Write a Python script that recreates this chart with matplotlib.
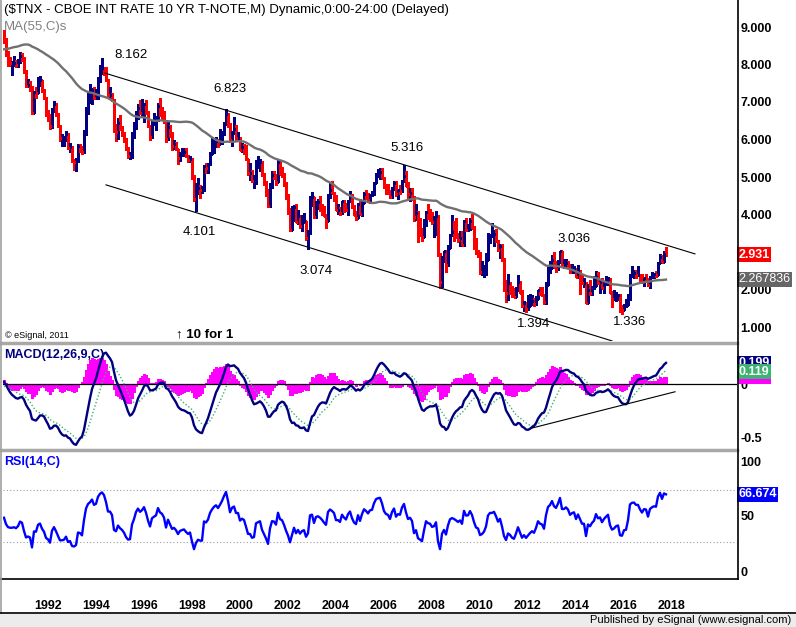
import numpy as np
import pandas as pd
import matplotlib
matplotlib.use('Agg')
import matplotlib.pyplot as plt
import matplotlib.transforms as mtransforms
from matplotlib.lines import Line2D
from matplotlib.patches import Rectangle

plt.rcParams['font.family'] = ['Liberation Sans', 'DejaVu Sans']

# monthly closes Jan 1986 - Sep 1990, only used to warm up the indicators
warmup_closes = [
    9.01, 8.22, 7.31, 7.56, 8.09, 7.27, 7.32, 7.08, 7.61, 7.45, 7.21, 7.23,
    7.09, 7.24, 7.56, 8.36, 8.72, 8.39, 8.73, 8.97, 9.59, 8.90, 8.93, 8.83,
    8.36, 8.39, 8.74, 8.97, 9.16, 8.83, 9.30, 9.19, 8.87, 8.70, 9.07, 9.14,
    8.91, 9.27, 9.29, 9.06, 8.58, 8.04, 7.80, 8.28, 8.24, 7.89, 7.84, 7.93,
    8.42, 8.51, 8.65, 9.04, 8.60, 8.44, 8.41, 8.86, 8.83,
]

# monthly bars Oct 1990 - May 2018 (open = previous close)
closes = [
    8.63, 8.26, 8.07,
    8.03, 8.03, 8.05, 8.00, 8.07, 8.23, 8.18, 7.80, 7.43, 7.46, 7.40, 6.70,
    7.27, 7.25, 7.53, 7.58, 7.30, 7.12, 6.71, 6.60, 6.35, 6.79, 6.94, 6.69,
    6.37, 6.03, 6.03, 6.05, 6.15, 5.78, 5.81, 5.44, 5.39, 5.43, 5.82, 5.79,
    5.66, 6.21, 6.77, 7.04, 7.15, 7.32, 7.11, 7.17, 7.60, 7.81, 7.91, 7.82,
    7.58, 7.20, 7.20, 7.06, 6.28, 6.20, 6.43, 6.28, 6.18, 6.02, 5.74, 5.57,
    5.58, 6.10, 6.33, 6.67, 6.85, 6.71, 6.79, 6.94, 6.72, 6.37, 6.06, 6.42,
    6.49, 6.55, 6.90, 6.72, 6.66, 6.50, 6.01, 6.34, 6.10, 5.83, 5.87, 5.74,
    5.51, 5.62, 5.65, 5.67, 5.55, 5.45, 5.49, 5.00, 4.42, 4.61, 4.71, 4.65,
    4.65, 5.29, 5.24, 5.35, 5.62, 5.78, 5.90, 5.97, 5.88, 6.02, 6.19, 6.44,
    6.67, 6.41, 6.00, 6.21, 6.27, 6.03, 6.03, 5.73, 5.80, 5.75, 5.47, 5.11,
    5.11, 4.90, 4.92, 5.34, 5.38, 5.41, 5.05, 4.83, 4.59, 4.23, 4.75, 5.05,
    5.03, 4.88, 5.40, 5.09, 5.04, 4.80, 4.46, 4.14, 3.59, 3.89, 4.21, 3.81,
    3.96, 3.69, 3.80, 3.84, 3.37, 3.51, 4.41, 4.46, 3.94, 4.29, 4.33, 4.25,
    4.13, 3.97, 3.84, 4.50, 4.65, 4.58, 4.48, 4.12, 4.12, 4.03, 4.35, 4.22,
    4.13, 4.36, 4.48, 4.20, 4.00, 3.92, 4.28, 4.02, 4.32, 4.56, 4.49, 4.39,
    4.53, 4.55, 4.85, 5.07, 5.12, 5.14, 4.98, 4.73, 4.63, 4.60, 4.46, 4.70,
    4.83, 4.56, 4.65, 4.63, 4.89, 5.03, 4.77, 4.54, 4.58, 4.47, 3.94, 4.03,
    3.59, 3.51, 3.41, 3.73, 4.06, 3.97, 3.95, 3.81, 3.83, 3.95, 2.92, 2.21,
    2.84, 3.02, 2.66, 3.12, 3.46, 3.53, 3.48, 3.40, 3.31, 3.38, 3.20, 3.84,
    3.60, 3.61, 3.83, 3.65, 3.29, 2.97, 2.91, 2.47, 2.51, 2.60, 2.80, 3.29,
    3.42, 3.42, 3.47, 3.29, 3.05, 3.16, 2.80, 2.22, 1.92, 2.17, 2.07, 1.88,
    1.80, 1.98, 2.21, 1.91, 1.56, 1.65, 1.47, 1.55, 1.63, 1.69, 1.61, 1.76,
    1.98, 1.88, 1.85, 1.67, 2.13, 2.49, 2.58, 2.78, 2.61, 2.55, 2.74, 3.03,
    2.65, 2.65, 2.72, 2.65, 2.47, 2.53, 2.56, 2.34, 2.49, 2.34, 2.17, 2.17,
    1.64, 2.00, 1.92, 2.03, 2.10, 2.33, 2.18, 2.21, 2.04, 2.14, 2.21, 2.27,
    1.92, 1.74, 1.77, 1.83, 1.85, 1.47, 1.45, 1.58, 1.59, 1.83, 2.37, 2.44,
    2.45, 2.39, 2.39, 2.28, 2.20, 2.30, 2.29, 2.12, 2.33, 2.38, 2.41, 2.40,
    2.72, 2.86, 2.74, 2.95, 2.931,
]

highs = [
    8.92, 8.70, 8.36,
    8.20, 8.09, 8.22, 8.12, 8.15, 8.34, 8.30, 8.20, 7.85, 7.62, 7.55, 7.42,
    7.30, 7.40, 7.67, 7.70, 7.60, 7.34, 7.14, 6.80, 6.67, 6.84, 7.02, 6.97,
    6.70, 6.39, 6.16, 6.09, 6.24, 6.17, 5.91, 5.84, 5.46, 5.52, 5.87, 5.87,
    5.84, 6.26, 6.86, 7.26, 7.47, 7.38, 7.40, 7.36, 7.66, 7.99, 8.162, 7.94,
    7.93, 7.62, 7.40, 7.24, 7.09, 6.41, 6.57, 6.65, 6.35, 6.20, 6.05, 5.79,
    5.68, 6.20, 6.46, 6.77, 6.95, 7.06, 7.07, 6.97, 7.05, 6.76, 6.40, 6.52,
    6.72, 6.63, 6.98, 7.10, 6.86, 6.75, 6.52, 6.46, 6.40, 6.20, 6.00, 5.94,
    5.75, 5.66, 5.77, 5.77, 5.77, 5.59, 5.55, 5.52, 5.05, 4.83, 4.98, 4.78,
    4.77, 5.32, 5.37, 5.38, 5.66, 6.08, 6.02, 6.06, 6.02, 6.29, 6.21, 6.47,
    6.823, 6.70, 6.45, 6.23, 6.59, 6.38, 6.20, 6.06, 5.90, 5.88, 5.85, 5.49,
    5.37, 5.20, 5.05, 5.45, 5.57, 5.48, 5.43, 5.10, 4.90, 4.68, 4.85, 5.16,
    5.16, 5.08, 5.49, 5.43, 5.26, 5.10, 4.88, 4.54, 4.16, 4.23, 4.25, 4.27,
    4.13, 4.00, 4.00, 4.03, 3.84, 3.60, 4.49, 4.60, 4.47, 4.37, 4.42, 4.48,
    4.29, 4.22, 4.02, 4.55, 4.87, 4.89, 4.60, 4.52, 4.28, 4.19, 4.37, 4.40,
    4.30, 4.39, 4.64, 4.56, 4.25, 4.10, 4.30, 4.41, 4.35, 4.60, 4.66, 4.57,
    4.56, 4.64, 4.87, 5.10, 5.21, 5.25, 5.24, 5.00, 4.82, 4.81, 4.65, 4.74,
    4.90, 4.90, 4.66, 4.78, 4.91, 5.316, 5.17, 4.86, 4.71, 4.70, 4.49, 4.28,
    4.10, 3.91, 3.65, 3.88, 4.09, 4.27, 4.16, 4.08, 3.96, 4.10, 4.00, 2.97,
    2.90, 3.04, 3.05, 3.18, 3.49, 4.00, 3.82, 3.90, 3.52, 3.56, 3.56, 3.86,
    3.90, 3.76, 3.92, 4.01, 3.69, 3.37, 3.06, 3.00, 2.77, 2.65, 2.97, 3.50,
    3.49, 3.77, 3.59, 3.61, 3.32, 3.21, 3.22, 2.85, 2.24, 2.42, 2.20, 2.09,
    2.05, 2.07, 2.40, 2.23, 1.98, 1.70, 1.66, 1.86, 1.88, 1.85, 1.77, 1.84,
    2.00, 2.07, 2.08, 1.87, 2.20, 2.66, 2.75, 2.93, 3.005, 2.77, 2.80, 3.036,
    3.03, 2.81, 2.82, 2.76, 2.67, 2.67, 2.62, 2.58, 2.65, 2.52, 2.41, 2.32,
    2.19, 2.16, 2.25, 2.10, 2.37, 2.49, 2.47, 2.26, 2.30, 2.19, 2.37, 2.33,
    2.30, 1.97, 2.00, 1.94, 1.89, 1.87, 1.59, 1.62, 1.74, 1.87, 2.42, 2.64,
    2.51, 2.52, 2.63, 2.40, 2.42, 2.31, 2.41, 2.32, 2.36, 2.47, 2.42, 2.50,
    2.73, 2.957, 2.91, 3.03, 3.128,
]

lows = [
    8.58, 8.22, 7.97,
    7.96, 7.72, 7.97, 7.93, 7.93, 8.05, 8.10, 7.78, 7.41, 7.39, 7.29, 6.69,
    6.70, 7.12, 7.23, 7.44, 7.27, 7.08, 6.63, 6.50, 6.27, 6.30, 6.73, 6.64,
    6.34, 5.97, 5.84, 5.83, 5.95, 5.74, 5.68, 5.39, 5.19, 5.17, 5.41, 5.68,
    5.61, 5.64, 6.12, 6.67, 6.97, 6.96, 7.08, 7.08, 7.07, 7.54, 7.74, 7.72,
    7.55, 7.17, 7.08, 7.02, 6.20, 5.95, 6.02, 6.25, 6.10, 5.94, 5.71, 5.52,
    5.47, 5.51, 6.05, 6.29, 6.55, 6.68, 6.62, 6.47, 6.69, 6.34, 6.00, 6.04,
    6.38, 6.25, 6.50, 6.63, 6.56, 6.44, 5.94, 6.00, 6.06, 5.72, 5.75, 5.71,
    5.34, 5.42, 5.55, 5.55, 5.54, 5.40, 5.40, 4.96, 4.36, 4.101, 4.55, 4.45,
    4.58, 4.63, 5.11, 5.11, 5.31, 5.62, 5.65, 5.80, 5.79, 5.87, 5.89, 6.12,
    6.40, 6.33, 5.95, 5.82, 6.15, 5.97, 5.99, 5.71, 5.66, 5.62, 5.45, 5.05,
    4.92, 4.87, 4.72, 4.82, 5.25, 5.15, 5.02, 4.79, 4.50, 4.20, 4.20, 4.72,
    4.94, 4.80, 4.86, 5.08, 4.99, 4.77, 4.42, 4.01, 3.57, 3.58, 3.83, 3.79,
    3.75, 3.64, 3.56, 3.77, 3.33, 3.074, 3.48, 4.22, 3.92, 3.90, 4.15, 4.09,
    3.98, 3.97, 3.65, 3.83, 4.45, 4.57, 4.36, 4.12, 4.01, 3.98, 4.01, 4.08,
    4.10, 3.99, 4.35, 4.17, 3.98, 3.86, 3.91, 4.01, 3.96, 4.30, 4.41, 4.35,
    4.30, 4.48, 4.53, 4.84, 5.00, 4.96, 4.97, 4.71, 4.55, 4.56, 4.43, 4.44,
    4.66, 4.50, 4.42, 4.56, 4.61, 4.88, 4.76, 4.44, 4.37, 4.38, 3.82, 3.85,
    3.28, 3.42, 3.29, 3.40, 3.69, 3.88, 3.82, 3.74, 3.39, 3.45, 2.89, 2.04,
    2.06, 2.73, 2.48, 2.62, 3.11, 3.42, 3.29, 3.39, 3.26, 3.16, 3.19, 3.17,
    3.56, 3.55, 3.58, 3.65, 3.09, 2.94, 2.86, 2.42, 2.38, 2.33, 2.39, 2.79,
    3.24, 3.41, 3.17, 3.27, 3.04, 2.84, 2.77, 1.97, 1.67, 1.72, 1.87, 1.80,
    1.79, 1.80, 1.95, 1.90, 1.53, 1.44, 1.394, 1.46, 1.55, 1.60, 1.56, 1.58,
    1.76, 1.86, 1.83, 1.61, 1.62, 2.11, 2.43, 2.57, 2.60, 2.47, 2.51, 2.73,
    2.62, 2.57, 2.60, 2.59, 2.44, 2.47, 2.44, 2.33, 2.34, 1.87, 2.15, 2.06,
    1.64, 1.64, 1.86, 1.85, 2.02, 2.09, 2.15, 1.91, 2.03, 1.90, 2.11, 2.13,
    1.92, 1.53, 1.72, 1.70, 1.71, 1.40, 1.336, 1.45, 1.53, 1.59, 1.72, 2.34,
    2.31, 2.32, 2.36, 2.17, 2.18, 2.10, 2.25, 2.10, 2.03, 2.31, 2.31, 2.33,
    2.40, 2.70, 2.74, 2.73, 2.93,
]

first_year, first_month = 1990, 10

# analyst trend lines: (year, value) end points
upper_channel = [(1994.96, 7.77), (2019.54, 2.95)]
lower_channel = [(1995.00, 4.79), (2016.08, 0.63)]
macd_trend = [(2012.75, -0.41), (2018.71, -0.07)]

# swing labels: (text, year, value)
swing_labels = [
    ('8.162', 1995.33, 8.25), ('6.823', 1999.46, 7.35),
    ('5.316', 2006.83, 5.77), ('4.101', 1998.21, 3.53),
    ('3.074', 2003.08, 2.49), ('3.036', 2013.79, 3.35),
    ('1.394', 2012.13, 1.08), ('1.336', 2016.13, 1.13),
]

# 3.000 sits under the last-price box in the reference
price_ticks = [1, 2, 4, 5, 6, 7, 8, 9]
year_ticks = list(range(1992, 2019, 2))

W, H = 796, 627
NAVY = '#000080'


def fx(px):
    return px / W


def fy(py):
    return 1 - py / H


def indicators():
    s = pd.Series(warmup_closes + closes)
    ma = s.rolling(55).mean()
    macd = s.ewm(span=12, adjust=False).mean() - s.ewm(span=26, adjust=False).mean()
    signal = macd.ewm(span=9, adjust=False).mean()
    delta = s.diff()
    gain = delta.clip(lower=0).ewm(alpha=1 / 14, adjust=False).mean()
    loss = (-delta.clip(upper=0)).ewm(alpha=1 / 14, adjust=False).mean()
    rsi = 100 - 100 / (1 + gain / loss)
    n = len(warmup_closes)
    return (ma.values[n:], macd.values[n:], signal.values[n:], rsi.values[n:])


def value_box(ax, y, text, fc, weight='bold', zorder=5):
    trans = mtransforms.blended_transform_factory(ax.transAxes, ax.transData)
    ax.text(1.002, y, text, transform=trans, ha='left', va='center',
            color='white', fontsize=9, fontweight=weight, clip_on=False,
            zorder=zorder,
            bbox=dict(boxstyle='square,pad=0.12', fc=fc, ec='none'))


def main():
    t = first_year + (first_month - 1) / 12 + np.arange(len(closes)) / 12
    c = np.array(closes)
    o = np.concatenate([[warmup_closes[-1]], c[:-1]])
    hi = np.array(highs)
    lo = np.array(lows)
    ma, macd, signal, rsi = indicators()
    hist = macd - signal

    fig = plt.figure(figsize=(W / 100, H / 100), dpi=100)
    fig.patch.set_facecolor('white')
    left, width = fx(3), fx(737) - fx(3)
    ax_p = fig.add_axes([left, fy(341), width, 340 / H])
    ax_m = fig.add_axes([left, fy(448), width, 103 / H])
    ax_r = fig.add_axes([left, fy(579), width, 127 / H])

    xmin, xmax = 2016.5 - 619 / 24, 2016.5 + 115 / 24
    for ax in (ax_p, ax_m, ax_r):
        ax.set_xlim(xmin, xmax)
        for sp in ax.spines.values():
            sp.set_visible(False)
        ax.yaxis.tick_right()
        ax.tick_params(axis='y', length=0, pad=2.5, labelsize=9)
        ax.tick_params(axis='x', length=0)

    # price panel
    cols = np.where(c < o, '#ff0000', NAVY)
    ax_p.vlines(t, lo, hi, colors=cols, lw=0.8, antialiased=False)
    ax_p.hlines(o, t - 1.2 / 24, t, colors=cols, lw=0.8, antialiased=False)
    ax_p.hlines(c, t, t + 1.2 / 24, colors=cols, lw=0.8, antialiased=False)
    ax_p.plot(t, ma, color='#707070', lw=1.7)
    for line in (upper_channel, lower_channel):
        ax_p.plot([line[0][0], line[1][0]], [line[0][1], line[1][1]],
                  color='black', lw=0.8)
    for text, x, y in swing_labels:
        ax_p.text(x, y, text, fontsize=9.5, va='center', ha='left')
    ax_p.set_ylim(1 - 14 / 37.5, 1 + 326 / 37.5)
    ax_p.set_yticks(price_ticks)
    ax_p.set_yticklabels(['%.3f' % v for v in price_ticks], fontweight='bold')
    ax_p.set_xticks([])
    ax_p.text(1997.92, 1 - 7 / 37.5, '\u2191 10 for 1', fontsize=9.5,
              fontweight='bold', va='center', ha='left')
    value_box(ax_p, 2.931, '2.931', '#ff0000')
    value_box(ax_p, 2.267836, '2.267836', '#666666', weight='normal')

    # MACD panel
    ax_m.vlines(t, 0, hist, colors='#ff00ff', lw=0.8, antialiased=False)
    ax_m.axhline(0, color='black', lw=0.9)
    ax_m.plot(t, signal, color='#3cb371', lw=1, ls=(0, (1, 1.5)))
    ax_m.plot(t, macd, color=NAVY, lw=1.7)
    ax_m.plot([macd_trend[0][0], macd_trend[1][0]],
              [macd_trend[0][1], macd_trend[1][1]], color='black', lw=0.8)
    ax_m.set_ylim(-63.7 / 106.7, 39.3 / 106.7)
    ax_m.set_yticks([0, -0.5])
    ax_m.set_yticklabels(['0', '-0.5'], fontweight='bold')
    ax_m.set_xticks([])
    # histogram value tag, mostly hidden under the signal tag
    trans_m = mtransforms.blended_transform_factory(ax_m.transAxes, ax_m.transData)
    ax_m.add_patch(Rectangle((1.0014, 0.0), 0.045, 0.08, transform=trans_m,
                             fc='#ff00ff', ec='none', clip_on=False, zorder=4))
    value_box(ax_m, 0.199, '0.199', NAVY, zorder=6)
    value_box(ax_m, 0.119, '0.119', '#3cb371', zorder=7)

    # RSI panel
    ax_r.axhline(70, color='#a0a0a0', lw=0.8, ls=(0, (1, 2)))
    ax_r.axhline(30, color='#a0a0a0', lw=0.8, ls=(0, (1, 2)))
    ax_r.plot(t, rsi, color='#0000ff', lw=1.7)
    ax_r.set_ylim(50 - 63 / 1.3, 50 + 64 / 1.3)
    ax_r.set_yticks([50 + 55 / 1.3, 50, 50 - 55 / 1.3])
    ax_r.set_yticklabels(['100', '50', '0'], fontweight='bold')
    ax_r.set_xticks(year_ticks)
    ax_r.set_xticklabels([str(y) for y in year_ticks], fontweight='bold',
                         fontsize=9)
    ax_r.tick_params(axis='x', pad=15)
    for lab in ax_r.get_xticklabels():
        lab.set_ha('left')
    value_box(ax_r, 66.674, '66.674', '#0000ff')

    # frame pieces
    lines = [
        ((0, 737), (342.5, 342.5), '#a8a8a8', 2.5),
        ((0, 737), (449.5, 449.5), '#a8a8a8', 2.5),
        ((0, 737.5), (579, 579), 'black', 1.2),
        ((737.5, 737.5), (0, 579), 'black', 1.2),
        ((1, 1), (0, 613), '#a0a0a0', 1.2),
        ((0, 796), (613, 613), 'black', 1.2),
    ]
    for xs, ys, col, lw in lines:
        fig.add_artist(Line2D([fx(xs[0]), fx(xs[1])], [fy(ys[0]), fy(ys[1])],
                              color=col, lw=lw, transform=fig.transFigure))
    fig.add_artist(Rectangle((0, 0), 1, 13.5 / H, transform=fig.transFigure,
                             fc='#ececec', ec='none'))

    fig.text(fx(4), fy(10), '($TNX - CBOE INT RATE 10 YR T-NOTE,M) Dynamic,0:00-24:00 (Delayed)',
             fontsize=9.5, va='center', ha='left')
    fig.text(fx(4), fy(27), 'MA(55,C)s', fontsize=9.5, va='center',
             ha='left', color='#808080')
    fig.text(fx(5), fy(335), '\u00a9 eSignal, 2011', fontsize=6.5,
             va='center', ha='left')
    fig.text(fx(4), fy(355), 'MACD(12,26,9,C)', fontsize=9, va='center',
             ha='left', color=NAVY, fontweight='bold')
    fig.text(fx(4), fy(462), 'RSI(14,C)', fontsize=9, va='center',
             ha='left', color='#0000ff', fontweight='bold')
    fig.text(fx(791), fy(620), 'Published by eSignal (www.esignal.com)',
             fontsize=8, va='center', ha='right')

    fig.savefig('out.png', dpi=100, facecolor='white')


if __name__ == '__main__':
    main()
